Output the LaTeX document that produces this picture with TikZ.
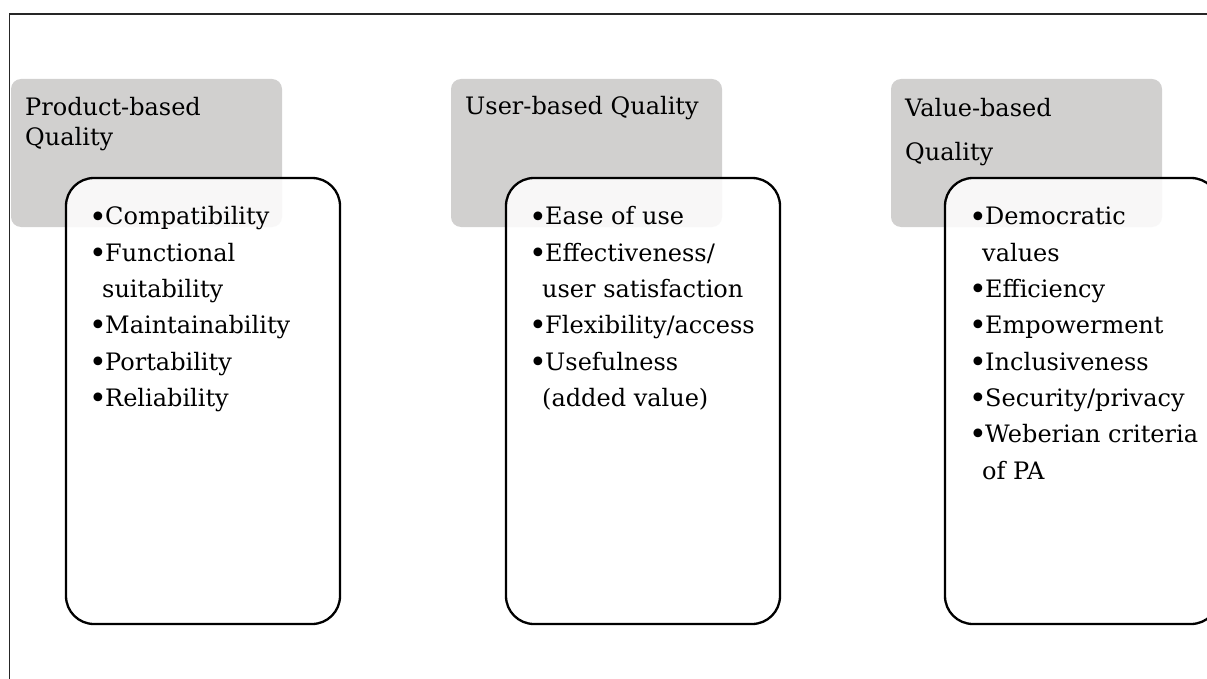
\documentclass[tikz,border=0pt]{standalone}
\usepackage{fontspec}
\setmainfont{DejaVu Serif}
\definecolor{hdrgray}{RGB}{209,208,207}
\newcommand{\bul}{\makebox[16pt][l]{\smash{\raisebox{-2pt}{\scalebox{1.25}{•}}}}}
\newcommand{\cont}{\hspace*{13pt}}
\tikzset{
  framebox/.style={draw=black!85, line width=1.4pt},
  hdrbox/.style={fill=hdrgray, draw=none, rounded corners=10pt, anchor=north west, inner sep=0pt, outer sep=0pt, minimum width=271pt, minimum height=148pt},
  listbox/.style={draw=black, line width=2.3pt, fill=white, fill opacity=0.85, rounded corners=28pt, anchor=north west, inner sep=0pt, outer sep=0pt, minimum width=274pt, minimum height=446pt},
  hdrtext/.style={anchor=base west, inner sep=0pt, font=\fontsize{24}{30}\selectfont},
  itemtext/.style={anchor=base west, inner sep=0pt, font=\fontsize{24}{36}\selectfont},
}
\begin{document}
\begin{tikzpicture}[x=1pt,y=-1pt]
\useasboundingbox (0,0) rectangle (1207,679);
\begin{scope}
\clip (0,0) rectangle (1207,679);
\draw[framebox] (9.5,14) rectangle (1240,720);
% header boxes
\node[hdrbox] (h1) at (11,79) {};
\node[hdrbox] (h2) at (451,79) {};
\node[hdrbox] (h3) at (891,79) {};
% header texts
\node[hdrtext] (t1a) at (25,116) {Product-based};
\node[hdrtext] (t1b) at (25,146) {Quality};
\node[hdrtext] (t2a) at (465,115) {User-based Quality};
\node[hdrtext] (t3a) at (905,117) {Value-based};
\node[hdrtext] (t3b) at (905,161) {Quality};
% list boxes
\node[listbox] (b1) at (66,178) {};
\node[listbox] (b2) at (506,178) {};
\node[listbox] (b3) at (945,178) {};
% list texts
\foreach \t [count=\i] in {\bul Compatibility, \bul Functional, \cont suitability, \bul Maintainability, \bul Portability, \bul Reliability}
  \node[itemtext] (pa\i) at (89,{225+36.3*(\i-1)}) {\t};
\foreach \t [count=\i] in {\bul Ease of use, \bul Effectiveness/, \cont user satisfaction, \bul Flexibility/access, \bul Usefulness, \cont (added value)}
  \node[itemtext] (ua\i) at (529,{225+36.3*(\i-1)}) {\t};
\foreach \t [count=\i] in {\bul Democratic, \cont values, \bul Efficiency, \bul Empowerment, \bul Inclusiveness, \bul Security/privacy, \bul Weberian criteria, \cont of PA}
  \node[itemtext] (va\i) at (969,{225+36.3*(\i-1)}) {\t};
\end{scope}
\end{tikzpicture}
\end{document}
